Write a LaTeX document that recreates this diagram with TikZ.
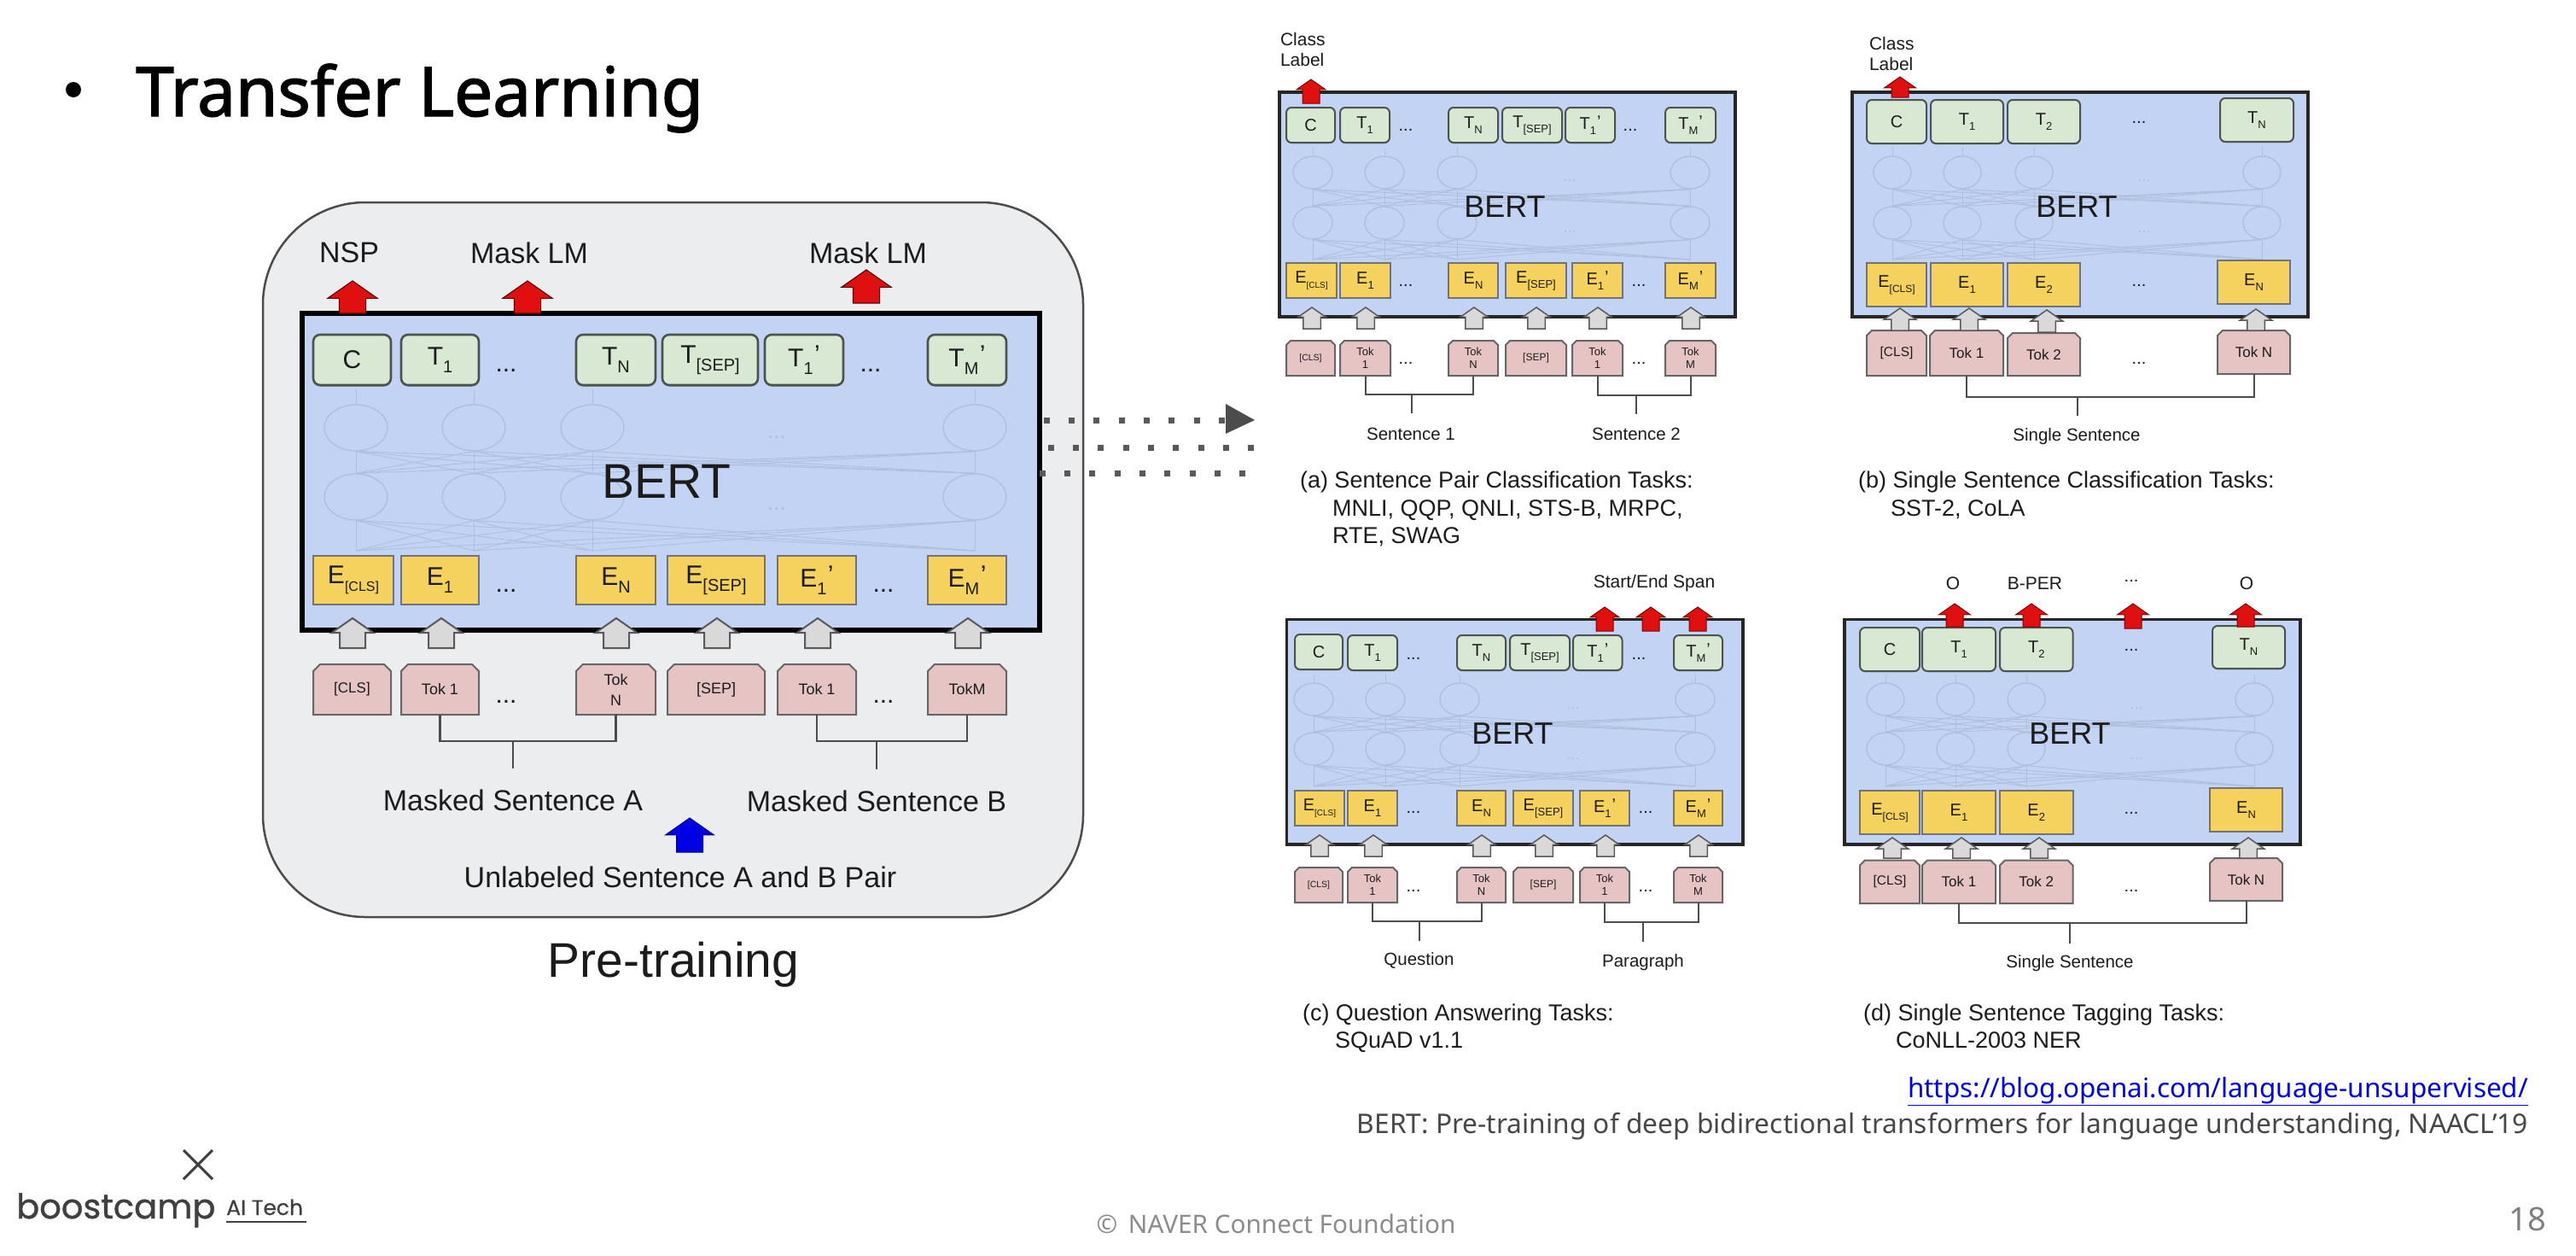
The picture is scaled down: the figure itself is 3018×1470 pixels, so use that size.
\documentclass[tikz,border=0pt]{standalone}
\usepackage{fontspec}
\usetikzlibrary{shapes.geometric,shapes.arrows,shapes.misc,shadows}
\setmainfont{Liberation Sans}
\newfontfamily\titlef[FakeBold=1.8]{Noto Sans}
\newfontfamily\notef{Noto Sans}
\newfontfamily\logof[FakeBold=1.0]{Poppins}
\newfontfamily\logog[FakeBold=0.4]{Poppins}
\definecolor{bertblue}{HTML}{C2D3F4}
\definecolor{tgreen}{HTML}{D9E8D3}
\definecolor{eyellow}{HTML}{F5D25E}
\definecolor{tokpink}{HTML}{E6C4C4}
\definecolor{arrgrey}{HTML}{D9D9D9}
\definecolor{arrred}{HTML}{E01010}
\definecolor{panelbg}{HTML}{EBEDEF}
\definecolor{netc}{HTML}{AFBEDC}
\definecolor{edge}{HTML}{4A544C}
\definecolor{ink}{HTML}{1C1C1C}
% font helpers: one picture unit is one reference pixel
\newcommand\fsz[2]{\def\subsz{#2}\fontsize{#1}{#1}\selectfont}
\newcommand\sbs[2]{#1\raisebox{-.3em}{\fontsize{\subsz}{\subsz}\selectfont #2}}
\newcommand\sbz[3]{#2\raisebox{-.3em}{\fontsize{#1}{#1}\selectfont #3}}
\newcommand\sbp[2]{#1\raisebox{-.3em}{\fontsize{\subsz}{\subsz}\selectfont #2}\raisebox{.12em}{\kern.05em'}}
\newcommand\bx[7]{\node[#2, minimum width={(#4-#3)*1pt}, minimum height={(#6-#5)*1pt}] (#1) at ({(#3+#4)/2},{(#5+#6)/2}) {#7};}
\newcommand\arr[5]{\node[#2, anchor=tip, rotate=90, minimum height={(#5-#4)*1pt}] (#1) at (#3,#4) {};}
\newcommand\lab[5]{\node[lbl, font=\fsz{#2}{#2}] (#1) at (#3,#4) {#5};}
\newcommand\capt[5]{\node[lbl, anchor=base west, font=\fsz{#2}{#2}] (#1) at (#3,#4) {#5};}
\newcommand\dt[4]{\node[lbl, anchor=base, font=\fsz{#2}{#2}] (#1) at (#3,#4+2) {...};}
% bracket joining two token nodes with a stem: from, to, prefix, ybar, xstem, yend, style
\newcommand\brk[7]{%
  \coordinate (#3top) at (#5,#4);
  \coordinate (#3end) at (#5,#6);
  \draw[#7] (#1.south) -- (#1.south |- #3top) -- (#2.south |- #3top) -- (#2.south);
  \draw[#7] (#3top) -- (#3end);
}
% faint network inside a BERT box
\newcommand\nnet[7]{% prefix, x-list, yupper, ylower, ystart, ytop, {rx,ry}
  \foreach \i/\x in {#2} {
    \coordinate (#1b\i) at (\x,#5);
    \coordinate (#1t\i) at (\x,#6);
    \node[neur, #7] (#1u\i) at (\x,#3) {};
    \node[neur, #7] (#1l\i) at (\x,#4) {};
    \draw[netl] (#1u\i.north) -- (#1t\i);
  }
  \foreach \i in {1,2,3,4} \foreach \j in {1,2,3,4} {
    \draw[netl] (#1b\i) -- (#1l\j.south);
    \draw[netl] (#1l\i.north) -- (#1u\j.south);
  }
}
\tikzset{
  lbl/.style={inner sep=0pt, outer sep=0pt, text=ink, align=center},
  baseb/.style={inner sep=0pt, outer sep=0pt, align=center, text=ink},
  bertbig/.style={baseb, draw=black, line width=6pt, fill=bertblue},
  bertsm/.style={baseb, draw=black!85, line width=3.2pt, fill=bertblue},
  tbig/.style={baseb, draw=edge, fill=tgreen, line width=2.6pt, rounded corners=8pt,
    general shadow={fill=edge!80, shadow yshift=-1.5pt}, font=\fsz{30}{20}},
  tsm/.style={baseb, draw=edge, fill=tgreen, line width=2pt, rounded corners=6pt,
    general shadow={fill=edge!80, shadow yshift=-1pt}, font=\fsz{20}{13}},
  ebig/.style={baseb, draw=black!55, fill=eyellow, line width=2pt, font=\fsz{30}{20}},
  esm/.style={baseb, draw=black!55, fill=eyellow, line width=2pt, font=\fsz{20}{13}},
  tokbase/.style={baseb, chamfered rectangle, chamfered rectangle corners={north west,north east},
    draw=black!60, fill=tokpink, line width=2pt},
  tokbig/.style={tokbase, chamfered rectangle xsep=4pt, chamfered rectangle ysep=4pt, font=\fsz{18}{18}},
  toksm/.style={tokbase, chamfered rectangle xsep=2.5pt, chamfered rectangle ysep=2.5pt, font=\fsz{13}{13}},
  tokmid/.style={tokbase, chamfered rectangle xsep=3pt, chamfered rectangle ysep=3pt, font=\fsz{17}{17}},
  ablock/.style={single arrow, inner xsep=0pt, outer sep=0pt, single arrow head indent=0pt, single arrow tip angle=110},
  redbig/.style={ablock, inner ysep=15pt, draw=red!40!black, fill=arrred, line width=1.2pt, single arrow head extend=13.5pt},
  redsm/.style={ablock, inner ysep=9.5pt, draw=red!50!black, fill=arrred, line width=1pt, single arrow head extend=7pt},
  redmd/.style={ablock, inner ysep=9.5pt, draw=red!50!black, fill=arrred, line width=1pt, single arrow head extend=8.5pt},
  greybig/.style={ablock, inner ysep=14pt, draw=black!65, fill=arrgrey, line width=2pt, single arrow head extend=9.5pt},
  greysm/.style={ablock, inner ysep=9.5pt, draw=black!65, fill=arrgrey, line width=1.5pt, single arrow head extend=6pt},
  greymd/.style={ablock, inner ysep=9.5pt, draw=black!65, fill=arrgrey, line width=1.5pt, single arrow head extend=8.5pt},
  bluebig/.style={ablock, inner ysep=15pt, draw=blue!50!black, fill=blue!90!black, line width=1pt, single arrow head extend=13pt},
  neur/.style={ellipse, draw=netc, line width=1.3pt, inner sep=0pt},
  netl/.style={draw=netc, line width=0.9pt},
  wire/.style={draw=black!70, line width=2pt},
  wirem/.style={draw=black!70, line width=2.2pt},
  dotrow/.style={draw=black!65, line width=7pt, dash pattern=on 7pt off 22.35pt},
  outerpanel/.style={baseb, draw=black!70, line width=2.5pt, fill=panelbg, rounded corners=120pt},
}
\begin{document}
\begin{tikzpicture}[x=1pt,y=-1pt]
\useasboundingbox (0,0) rectangle (3018,1470);
\fill[white] (0,0) rectangle (3018,1470);

% ---------- slide title ----------
\node[circle, fill=black, minimum size=18pt, inner sep=0pt] (bullet) at (86,105) {};
\node[anchor=base west, inner sep=0pt, font=\titlef\fontsize{80}{80}\selectfont] (title) at (159,136) {Transfer Learning};

% ---------- pre-training panel ----------
\bx{pre}{outerpanel}{308}{1269}{237}{1074}{}
\bx{mB}{bertbig}{354}{1218}{367}{738}{}
\nnet{mn}{1/417,2/555,3/694,4/1142}{501}{582}{645}{457}{minimum width=74pt, minimum height=54pt}
\node[lbl, text=netc, font=\fsz{26}{26}] (mnd1) at (910,512) {...};
\node[lbl, text=netc, font=\fsz{26}{26}] (mnd2) at (910,596) {...};
\lab{mBt}{57}{781}{564}{BERT}
\bx{mT0}{tbig}{367}{458}{392}{451}{C}
\bx{mT1}{tbig}{470}{561}{392}{451}{\sbs{T}{1}}
\bx{mT2}{tbig}{675}{768}{392}{451}{\sbs{T}{N}}
\bx{mT3}{tbig}{776}{888}{392}{451}{\sbs{T}{[SEP]}}
\bx{mT4}{tbig}{896}{988}{392}{451}{\sbp{T}{1}}
\bx{mT5}{tbig}{1087}{1179}{392}{451}{\sbp{T}{M}}
\bx{mE0}{ebig}{367}{461}{651}{708}{\sbz{16}{E}{[CLS]}}
\bx{mE1}{ebig}{470}{561}{651}{708}{\sbs{E}{1}}
\bx{mE2}{ebig}{675}{768}{651}{708}{\sbs{E}{N}}
\bx{mE3}{ebig}{782}{896}{651}{708}{\sbs{E}{[SEP]}}
\bx{mE4}{ebig}{911}{1003}{651}{708}{\sbp{E}{1}}
\bx{mE5}{ebig}{1087}{1179}{651}{708}{\sbp{E}{M}}
\dt{mdT1}{30}{593}{433}
\dt{mdT2}{30}{1020}{433}
\dt{mdE1}{30}{593}{691}
\dt{mdE2}{30}{1035}{691}
\bx{mK0}{tokbig}{367}{458}{778}{837}{\fontsize{17}{17}\selectfont [CLS]}
\bx{mK1}{tokbig}{470}{561}{778}{837}{Tok 1}
\bx{mK2}{tokbig,align=center}{675}{768}{778}{837}{Tok\\[6pt]N}
\bx{mK3}{tokbig}{782}{896}{778}{837}{[SEP]}
\bx{mK4}{tokbig}{911}{1003}{778}{837}{Tok 1}
\bx{mK5}{tokbig}{1087}{1179}{778}{837}{TokM}
\dt{mdK1}{30}{593}{821}
\dt{mdK2}{30}{1035}{821}
\arr{mRa}{redbig}{413}{329}{367}
\arr{mRb}{redbig}{618}{329}{367}
\arr{mRc}{redbig}{1015}{316}{355}
\arr{mGa}{greybig}{413}{724}{759}
\arr{mGb}{greybig}{517}{724}{759}
\arr{mGc}{greybig}{722}{724}{759}
\arr{mGd}{greybig}{840}{724}{759}
\arr{mGe}{greybig}{958}{724}{759}
\arr{mGf}{greybig}{1134}{724}{759}
\lab{mNSP}{34}{409}{296}{NSP}
\lab{mLa}{34}{620}{296}{Mask LM}
\lab{mLb}{34}{1017}{296}{Mask LM}
\brk{mK1}{mK2}{mSa}{868}{601}{900}{wirem}
\brk{mK4}{mK5}{mSb}{868}{1027}{901}{wirem}
\lab{mSA}{34}{601}{937}{Masked Sentence A}
\lab{mSB}{34}{1027}{938}{Masked Sentence B}
\arr{mBl}{bluebig}{808}{958}{998}
\lab{mU}{34}{797}{1027}{Unlabeled Sentence A and B Pair}
\lab{mP}{57}{789}{1130}{Pre-training}

% ---------- dotted arrow ----------
\coordinate (d1a) at (1222.5,492); \coordinate (d1b) at (1436,492);
\coordinate (d2a) at (1227.5,524); \coordinate (d2b) at (1470,524);
\coordinate (d3a) at (1217.5,554); \coordinate (d3b) at (1460,554);
\draw[dotrow] (d1a) -- (d1b);
\draw[dotrow] (d2a) -- (d2b);
\draw[dotrow] (d3a) -- (d3b);
\fill[black!70] (1436,473) -- (1470,492) -- (1436,508) -- cycle;

% ---------- panel (a) ----------
\bx{aB}{bertsm}{1499}{2033}{108}{371}{}
\nnet{an}{1/1538,2/1622,3/1707,4/1980}{202}{261}{304}{173}{minimum width=46pt, minimum height=38pt}
\node[lbl, text=netc, font=\fsz{18}{18}] (and1) at (1839,212) {...};
\node[lbl, text=netc, font=\fsz{18}{18}] (and2) at (1839,272) {...};
\lab{aBt}{36}{1763}{242}{BERT}
\bx{aT0}{tsm}{1507}{1564}{126}{167}{C}
\bx{aT1}{tsm}{1570}{1628}{126}{167}{\sbs{T}{1}}
\bx{aT2}{tsm}{1697}{1755}{126}{167}{\sbs{T}{N}}
\bx{aT3}{tsm}{1760}{1830}{126}{167}{\sbs{T}{[SEP]}}
\bx{aT4}{tsm}{1834}{1892}{126}{167}{\sbp{T}{1}}
\bx{aT5}{tsm}{1951}{2010}{126}{167}{\sbp{T}{M}}
\bx{aE0}{esm}{1507}{1566}{308}{349}{\sbz{10}{E}{[CLS]}}
\bx{aE1}{esm}{1570}{1629}{308}{349}{\sbs{E}{1}}
\bx{aE2}{esm}{1697}{1755}{308}{349}{\sbs{E}{N}}
\bx{aE3}{esm}{1764}{1835}{308}{349}{\sbs{E}{[SEP]}}
\bx{aE4}{esm}{1842}{1901}{308}{349}{\sbp{E}{1}}
\bx{aE5}{esm}{1951}{2010}{308}{349}{\sbp{E}{M}}
\dt{adT1}{20}{1647}{151}
\dt{adT2}{20}{1910}{151}
\dt{adE1}{20}{1647}{333}
\dt{adE2}{20}{1920}{333}
\bx{aK0}{toksm}{1507}{1564}{399}{440}{\fontsize{10.5}{10.5}\selectfont [CLS]}
\bx{aK1}{toksm}{1570}{1629}{399}{440}{Tok\\[2pt]1}
\bx{aK2}{toksm}{1697}{1755}{399}{440}{Tok\\[2pt]N}
\bx{aK3}{toksm}{1764}{1835}{399}{440}{\fontsize{12}{12}\selectfont [SEP]}
\bx{aK4}{toksm}{1842}{1901}{399}{440}{Tok\\[2pt]1}
\bx{aK5}{toksm}{1951}{2010}{399}{440}{Tok\\[2pt]M}
\dt{adK1}{20}{1647}{424}
\dt{adK2}{20}{1920}{424}
\arr{aR}{redsm}{1536}{93}{121}
\arr{aGa}{greysm}{1537}{360}{385}
\arr{aGb}{greysm}{1600}{360}{385}
\arr{aGc}{greysm}{1727}{360}{385}
\arr{aGd}{greysm}{1800}{360}{385}
\arr{aGe}{greysm}{1872}{360}{385}
\arr{aGf}{greysm}{1981}{360}{385}
\node[lbl, anchor=north west, align=left, font=\fontsize{21}{24}\selectfont] (aCL) at (1500,38) {Class\\Label};
\brk{aK1}{aK2}{aSa}{462}{1654}{484}{wire}
\brk{aK4}{aK5}{aSb}{463}{1917}{485}{wire}
\lab{aS1}{20.5}{1653}{508}{Sentence 1}
\lab{aS2}{20.5}{1917}{508}{Sentence 2}
\capt{aC1}{27}{1523}{571}{(a) Sentence Pair Classification Tasks:}
\capt{aC2}{27}{1561}{604}{MNLI, QQP, QNLI, STS-B, MRPC,}
\capt{aC3}{27}{1561}{636}{RTE, SWAG}

% ---------- panel (b) ----------
\bx{bB}{bertsm}{2170}{2704}{108}{371}{}
\nnet{bn}{1/2217,2/2299,3/2383,4/2650}{202}{261}{304}{173}{minimum width=44pt, minimum height=38pt}
\node[lbl, text=netc, font=\fsz{18}{18}] (bnd1) at (2512,212) {...};
\node[lbl, text=netc, font=\fsz{18}{18}] (bnd2) at (2512,272) {...};
\lab{bBt}{36}{2433}{242}{BERT}
\bx{bT0}{tsm}{2187}{2257}{117}{168}{C}
\bx{bT1}{tsm}{2262}{2347}{117}{168}{\sbs{T}{1}}
\bx{bT2}{tsm}{2352}{2437}{117}{168}{\sbs{T}{2}}
\bx{bT3}{tsm}{2601}{2687}{115}{166}{\sbs{T}{N}}
\bx{bE0}{esm}{2187}{2257}{308}{359}{\sbz{12}{E}{[CLS]}}
\bx{bE1}{esm}{2262}{2347}{308}{359}{\sbs{E}{1}}
\bx{bE2}{esm}{2352}{2437}{308}{359}{\sbs{E}{2}}
\bx{bE3}{esm}{2598}{2683}{305}{356}{\sbs{E}{N}}
\dt{bdT}{20}{2506}{142}
\dt{bdE}{20}{2506}{333}
\bx{bK0}{tokmid}{2187}{2257}{387}{440}{\fontsize{15.5}{15.5}\selectfont [CLS]}
\bx{bK1}{tokmid}{2261}{2347}{387}{440}{Tok 1}
\bx{bK2}{tokmid}{2352}{2437}{390}{440}{Tok 2}
\bx{bK3}{tokmid}{2598}{2683}{387}{438}{Tok N}
\dt{bdK}{20}{2506}{424}
\arr{bR}{redmd}{2226}{90}{114}
\arr{bGa}{greymd}{2226}{361}{387}
\arr{bGb}{greymd}{2307}{361}{387}
\arr{bGc}{greymd}{2398}{363}{389}
\arr{bGd}{greymd}{2643}{362}{387}
\node[lbl, anchor=north west, align=left, font=\fontsize{21}{24}\selectfont] (bCL) at (2190,43) {Class\\Label};
\brk{bK1}{bK3}{bS0}{465}{2433.5}{487}{wire}
\lab{bS}{20.5}{2433}{511}{Single Sentence}
\capt{bC1}{27}{2177}{571}{(b) Single Sentence Classification Tasks:}
\capt{bC2}{27}{2215}{604}{SST-2, CoLA}

% ---------- panel (c) ----------
\bx{cB}{bertsm}{1507.5}{2042}{725.5}{989}{}
\nnet{cn}{1/1539,2/1623,3/1710,4/1986}{819}{877}{921}{790}{minimum width=46pt, minimum height=38pt}
\node[lbl, text=netc, font=\fsz{18}{18}] (cnd1) at (1843,830) {...};
\node[lbl, text=netc, font=\fsz{18}{18}] (cnd2) at (1843,889) {...};
\lab{cBt}{36}{1772}{859}{BERT}
\bx{cT0}{tsm}{1517}{1573}{743}{784}{C}
\bx{cT1}{tsm}{1579}{1637}{744}{785}{\sbs{T}{1}}
\bx{cT2}{tsm}{1707}{1764}{744}{785}{\sbs{T}{N}}
\bx{cT3}{tsm}{1769}{1839}{744}{785}{\sbs{T}{[SEP]}}
\bx{cT4}{tsm}{1843}{1900.5}{744}{785}{\sbp{T}{1}}
\bx{cT5}{tsm}{1961}{2018}{744}{785}{\sbp{T}{M}}
\bx{cE0}{esm}{1517}{1575}{926}{967}{\sbz{10}{E}{[CLS]}}
\bx{cE1}{esm}{1579}{1637}{926}{967}{\sbs{E}{1}}
\bx{cE2}{esm}{1707}{1764}{926}{967}{\sbs{E}{N}}
\bx{cE3}{esm}{1773}{1843}{926}{967}{\sbs{E}{[SEP]}}
\bx{cE4}{esm}{1851}{1909}{926}{967}{\sbp{E}{1}}
\bx{cE5}{esm}{1961}{2018}{926}{967}{\sbp{E}{M}}
\dt{cdT1}{20}{1656}{770}
\dt{cdT2}{20}{1920}{770}
\dt{cdE1}{20}{1656}{950}
\dt{cdE2}{20}{1928}{950}
\bx{cK0}{toksm}{1517}{1573}{1016}{1057}{\fontsize{10.5}{10.5}\selectfont [CLS]}
\bx{cK1}{toksm}{1579}{1637}{1016}{1057}{Tok\\[2pt]1}
\bx{cK2}{toksm}{1707}{1764}{1016}{1057}{Tok\\[2pt]N}
\bx{cK3}{toksm}{1773}{1843}{1016}{1057}{\fontsize{12}{12}\selectfont [SEP]}
\bx{cK4}{toksm}{1851}{1909}{1016}{1057}{Tok\\[2pt]1}
\bx{cK5}{toksm}{1961}{2018}{1016}{1057}{Tok\\[2pt]M}
\dt{cdK1}{20}{1656}{1042}
\dt{cdK2}{20}{1928}{1042}
\arr{cRa}{redsm}{1880}{711}{739}
\arr{cRb}{redsm}{1934}{711}{739}
\arr{cRc}{redsm}{1989}{711}{739}
\arr{cGa}{greysm}{1546}{978}{1003}
\arr{cGb}{greysm}{1609}{978}{1003}
\arr{cGc}{greysm}{1736}{978}{1003}
\arr{cGd}{greysm}{1809}{978}{1003}
\arr{cGe}{greysm}{1881}{978}{1003}
\arr{cGf}{greysm}{1990}{978}{1003}
\lab{cSE}{21}{1938}{683}{Start/End Span}
\brk{cK1}{cK2}{cSa}{1079}{1663}{1102}{wire}
\brk{cK4}{cK5}{cSb}{1080}{1925}{1103}{wire}
\lab{cQ}{20.5}{1662.5}{1125}{Question}
\lab{cP}{20.5}{1925}{1127}{Paragraph}
\capt{cC1}{27}{1526}{1195}{(c) Question Answering Tasks:}
\capt{cC2}{27}{1564}{1227}{SQuAD v1.1}

% ---------- panel (d) ----------
\bx{dB}{bertsm}{2161}{2695}{725.5}{989}{}
\nnet{dn}{1/2209,2/2291,3/2374,4/2641}{819}{877}{921}{790}{minimum width=44pt, minimum height=38pt}
\node[lbl, text=netc, font=\fsz{18}{18}] (dnd1) at (2503,830) {...};
\node[lbl, text=netc, font=\fsz{18}{18}] (dnd2) at (2503,889) {...};
\lab{dBt}{36}{2425}{859}{BERT}
\bx{dT0}{tsm}{2179}{2249}{735}{786}{C}
\bx{dT1}{tsm}{2252}{2338}{735}{786}{\sbs{T}{1}}
\bx{dT2}{tsm}{2343}{2428.5}{735}{786}{\sbs{T}{2}}
\bx{dT3}{tsm}{2592}{2677}{733}{783}{\sbs{T}{N}}
\bx{dE0}{esm}{2179}{2249}{926}{977}{\sbz{12}{E}{[CLS]}}
\bx{dE1}{esm}{2252}{2338}{926}{977}{\sbs{E}{1}}
\bx{dE2}{esm}{2343}{2428.5}{926}{977}{\sbs{E}{2}}
\bx{dE3}{esm}{2589}{2674}{923}{974}{\sbs{E}{N}}
\dt{ddT}{20}{2497}{760}
\dt{ddE}{20}{2497}{951}
\bx{dK0}{tokmid}{2179}{2249}{1007.5}{1058}{\fontsize{15.5}{15.5}\selectfont [CLS]}
\bx{dK1}{tokmid}{2252}{2338}{1007.5}{1058}{Tok 1}
\bx{dK2}{tokmid}{2343}{2428.5}{1007.5}{1058}{Tok 2}
\bx{dK3}{tokmid}{2589}{2674}{1005}{1055}{Tok N}
\dt{ddK}{20}{2497}{1042}
\arr{dRa}{redmd}{2290}{707}{734}
\arr{dRb}{redmd}{2380}{707}{734}
\arr{dRc}{redmd}{2499}{707}{736}
\arr{dRd}{redmd}{2631}{707}{734}
\arr{dGa}{greymd}{2217}{981}{1005}
\arr{dGb}{greymd}{2298}{981}{1005}
\arr{dGc}{greymd}{2389}{981}{1005}
\arr{dGd}{greymd}{2634}{981}{1005}
\lab{dO1}{21}{2288}{683}{O}
\lab{dBP}{21}{2384}{683}{B-PER}
\dt{ddL}{20}{2497}{679}
\lab{dO2}{21}{2632}{683}{O}
\brk{dK1}{dK3}{dS0}{1081}{2425}{1105}{wire}
\lab{dS}{20.5}{2425}{1128}{Single Sentence}
\capt{dC1}{27}{2183}{1195}{(d) Single Sentence Tagging Tasks:}
\capt{dC2}{27}{2221}{1227}{CoNLL-2003 NER}

% ---------- references and footer ----------
\node[anchor=base east, inner sep=0pt, text=blue!90!black, font=\notef\fontsize{31.4}{32}\selectfont] (link) at (2962,1285) {\underline{https://blog.openai.com/language-unsupervised/}};
\node[anchor=base east, inner sep=0pt, text=black!72, font=\notef\fontsize{31.7}{32}\selectfont] (ref) at (2962,1327) {BERT: Pre-training of deep bidirectional transformers for language understanding, NAACL’19};
\node[anchor=base, inner sep=0pt, text=black!45, font=\notef\fontsize{29.7}{30}\selectfont] (foot) at (1495,1444) {©\, NAVER Connect Foundation};
\node[anchor=base east, inner sep=0pt, text=black!50, font=\notef\fontsize{38}{38}\selectfont] (pg) at (2983,1441) {18};
% logo
\coordinate (xa) at (215,1347); \coordinate (xb) at (249,1381);
\coordinate (xc) at (249,1347); \coordinate (xd) at (215,1381);
\draw[black!75, line width=3pt] (xa) -- (xb);
\draw[black!75, line width=3pt] (xc) -- (xd);
\node[anchor=base west, inner sep=0pt, text=black!75, font=\logof\fontsize{40}{40}\selectfont] (lg1) at (19,1427) {boostcamp};
\node[anchor=base west, inner sep=0pt, text=black!75, font=\logog\fontsize{25}{25}\selectfont] (lg2) at (265,1423) {AI Tech};
\coordinate (ula) at (265,1431); \coordinate (ulb) at (359,1431);
\draw[black!75, line width=2pt] (ula) -- (ulb);
\end{tikzpicture}
\end{document}
